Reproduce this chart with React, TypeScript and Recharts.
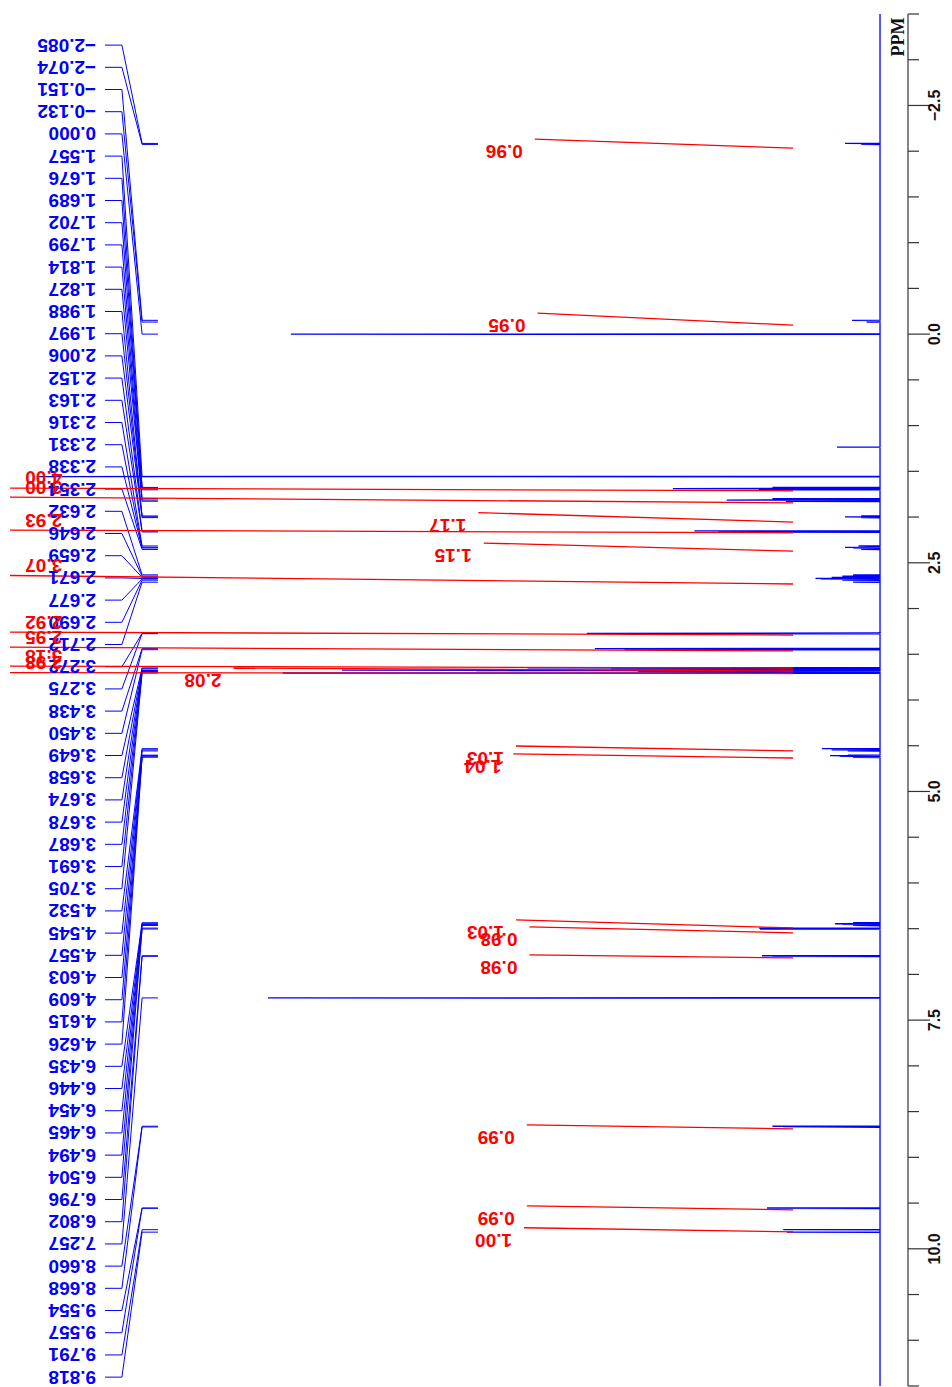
import { ScatterChart, Scatter, XAxis, YAxis } from 'recharts';

// peak list printed down the left side
const shiftLabels = [
  '-2.085', '-2.074', '-0.151', '-0.132', '0.000', '1.557', '1.676', '1.689', '1.702', '1.799',
  '1.814', '1.827', '1.988', '1.997', '2.006', '2.152', '2.163', '2.316', '2.331', '2.338',
  '2.354', '2.632', '2.646', '2.659', '2.671', '2.677', '2.690', '2.712', '3.272', '3.275',
  '3.438', '3.450', '3.649', '3.658', '3.674', '3.678', '3.687', '3.691', '3.705', '4.532',
  '4.545', '4.557', '4.603', '4.609', '4.615', '4.626', '6.435', '6.446', '6.454', '6.465',
  '6.494', '6.504', '6.796', '6.802', '7.257', '8.660', '8.668', '9.554', '9.557', '9.791',
  '9.818',
];

// spectrum peaks (ppm, intensity)
const peakPpm = [
  -2.085, -2.074, -0.151, -0.132, 0.0, 1.235, 1.557, 1.676, 1.689, 1.702,
  1.799, 1.814, 1.827, 1.988, 1.997, 2.006, 2.152, 2.163, 2.316, 2.331,
  2.338, 2.354, 2.632, 2.646, 2.659, 2.671, 2.677, 2.69, 2.712, 3.272,
  3.275, 3.438, 3.45, 3.649, 3.658, 3.674, 3.678, 3.687, 3.691, 3.705,
  4.532, 4.545, 4.557, 4.603, 4.609, 4.615, 4.626, 6.435, 6.446, 6.454,
  6.465, 6.494, 6.504, 6.796, 6.802, 7.257, 8.66, 8.668, 9.554, 9.557,
  9.791, 9.818,
];
const peakHeight = [
  13, 7, 10.4, 5, 219, 16, 313, 40, 77, 45,
  40, 57, 35, 7, 13, 7, 69, 60, 8, 13,
  10, 7, 10, 14, 18, 24, 22, 14, 10, 109,
  100, 106, 95, 131, 100, 200, 150, 90, 80, 222,
  21.6, 18, 12, 12, 18.6, 15, 10, 10, 16.7, 14,
  10, 45, 44.6, 43.9, 40, 227.5, 40, 36, 42, 40,
  36, 34.6,
];

// integrals
const integralValues = [
  0.96, 0.95, 4.0, 3.0, 1.17, 2.93, 1.15, 3.07, 2.92, 2.95,
  3.18, 2.08, 2.98, 1.03, 1.04, 1.03, 0.98, 0.98, 0.99, 0.99, 1.0,
];
const integralStart = [
  -2.033, -0.098, 1.713, 1.844, 2.055, 2.172, 2.372, 2.732, 3.29, 3.464,
  3.65, 3.683, 3.71, 4.557, 4.634, 6.492, 6.546, 6.82, 8.689, 9.574, 9.814,
];
const integralEnd = [
  -2.131, -0.23, 1.672, 1.781, 1.951, 2.142, 2.284, 2.634, 3.257, 3.421,
  3.628, 3.65, 3.7, 4.503, 4.59, 6.404, 6.481, 6.787, 8.645, 9.53, 9.77,
];

const ppmTicks = [
  -3.5, -3, -2.5, -2, -1.5, -1, -0.5, 0, 0.5, 1, 1.5, 2, 2.5, 3, 3.5, 4,
  4.5, 5, 5.5, 6, 6.5, 7, 7.5, 8, 8.5, 9, 9.5, 10, 10.5, 11, 11.5,
];
const majorTicks = [-2.5, 0, 2.5, 5, 7.5, 10];

const V_MIN = -10.4;
const V_MAX = 323.4;
const PPM_MIN = -3.5;
const PPM_MAX = 11.5;
const LABEL_TOP = -3.16;
const LABEL_BOTTOM = 11.403;
const LEADER_V = [288.1, 281.8, 274.3, 268.4];
const LABEL_V = 291.4;
const INT_START_V = 32.3;
const INT_SCALE = 100;
const PEAK_HALF = 0.003;

const BLUE = '#0000ff';
const RED = '#ff0000';
const SANS = '"Liberation Sans", Arial, sans-serif';

const minus = (s: string) => s.replace('-', '\u2212');

const spectrum = (() => {
  const order = peakPpm.map((_, i) => i).sort((a, b) => peakPpm[a] - peakPpm[b]);
  const pts = [{ v: 0, ppm: PPM_MIN }];
  order.forEach((i) => {
    pts.push(
      { v: 0, ppm: peakPpm[i] - PEAK_HALF },
      { v: peakHeight[i], ppm: peakPpm[i] },
      { v: 0, ppm: peakPpm[i] + PEAK_HALF },
    );
  });
  pts.push({ v: 0, ppm: PPM_MAX });
  return pts;
})();

const labelRow = (i: number) =>
  LABEL_TOP + (i * (LABEL_BOTTOM - LABEL_TOP)) / (shiftLabels.length - 1);

const leaders = shiftLabels.map((s, i) => {
  const y = labelRow(i);
  const p = parseFloat(s);
  return [
    { v: LEADER_V[0], ppm: y },
    { v: LEADER_V[1], ppm: y },
    { v: LEADER_V[2], ppm: p },
    { v: LEADER_V[3], ppm: p },
  ];
});

const shiftText = shiftLabels.map((s, i) => ({ v: LABEL_V, ppm: labelRow(i), text: minus(s) }));

const integrals = integralValues.map((val, i) => [
  { v: INT_START_V, ppm: integralStart[i] },
  { v: INT_START_V + val * INT_SCALE, ppm: integralEnd[i] },
]);

const integralText = integralValues.map((val, i) => {
  const vEnd = INT_START_V + val * INT_SCALE;
  const clipped = vEnd > V_MAX;
  return {
    v: clipped ? 304 : vEnd + 4.5,
    ppm: clipped ? integralEnd[i] - 0.109 : integralEnd[i] + 0.137,
    text: val.toFixed(2),
  };
});

const Empty = () => <g />;

const FlippedText = ({ cx, cy, payload, fill }: any) => (
  <text
    x={cx}
    y={cy}
    transform={`rotate(180 ${cx} ${cy})`}
    fill={fill}
    fontFamily={SANS}
    fontWeight="bold"
    fontSize={19}
    dominantBaseline="central"
  >
    {payload.text}
  </text>
);

const PpmTick = ({ x, y, payload }: any) => {
  const val = payload.value as number;
  const major = majorTicks.includes(val);
  const tx = x + 27;
  return (
    <g>
      <line x1={x} y1={y} x2={x + (major ? 22 : 11)} y2={y} stroke="#333" strokeWidth={1.2} />
      {major && (
        <text
          x={tx}
          y={y}
          transform={`rotate(-90 ${tx} ${y})`}
          textAnchor="middle"
          dominantBaseline="central"
          fontFamily={SANS}
          fontWeight="bold"
          fontSize={16}
          fill="#111"
        >
          {minus(val.toFixed(1))}
        </text>
      )}
    </g>
  );
};

const PpmLabel = ({ viewBox }: any) => {
  const x = viewBox.x - 10;
  const y = viewBox.y + 23;
  return (
    <text
      x={x}
      y={y}
      transform={`rotate(-90 ${x} ${y})`}
      textAnchor="middle"
      dominantBaseline="central"
      fontFamily='"Liberation Serif", "Times New Roman", serif'
      fontWeight="bold"
      fontSize={18}
      fill="#111"
    >
      PPM
    </text>
  );
};

const App = () => {
  return (
    <ScatterChart width={944} height={1379} margin={{ top: 6, right: 0, bottom: 1, left: 2 }}>
      <XAxis type="number" dataKey="v" domain={[V_MIN, V_MAX]} reversed hide allowDataOverflow />
      <YAxis
        type="number"
        dataKey="ppm"
        domain={[PPM_MIN, PPM_MAX]}
        reversed
        orientation="right"
        width={44}
        ticks={ppmTicks}
        interval={0}
        tick={(p: any) => <PpmTick {...p} />}
        tickSize={0}
        tickMargin={0}
        tickLine={false}
        axisLine={{ stroke: '#333', strokeWidth: 1.2 }}
        allowDataOverflow
        label={{ content: PpmLabel }}
      />
      <Scatter data={spectrum} line={{ stroke: BLUE, strokeWidth: 1.3 }} shape={Empty} isAnimationActive={false} />
      {leaders.map((d, i) => (
        <Scatter key={`lead${i}`} data={d} line={{ stroke: BLUE, strokeWidth: 1 }} shape={Empty} isAnimationActive={false} />
      ))}
      {integrals.map((d, i) => (
        <Scatter key={`int${i}`} data={d} line={{ stroke: RED, strokeWidth: 1.3 }} shape={Empty} isAnimationActive={false} />
      ))}
      <Scatter data={shiftText} shape={(p: any) => <FlippedText {...p} fill={BLUE} />} isAnimationActive={false} />
      <Scatter data={integralText} shape={(p: any) => <FlippedText {...p} fill={RED} />} isAnimationActive={false} />
    </ScatterChart>
  );
};

export default App;
